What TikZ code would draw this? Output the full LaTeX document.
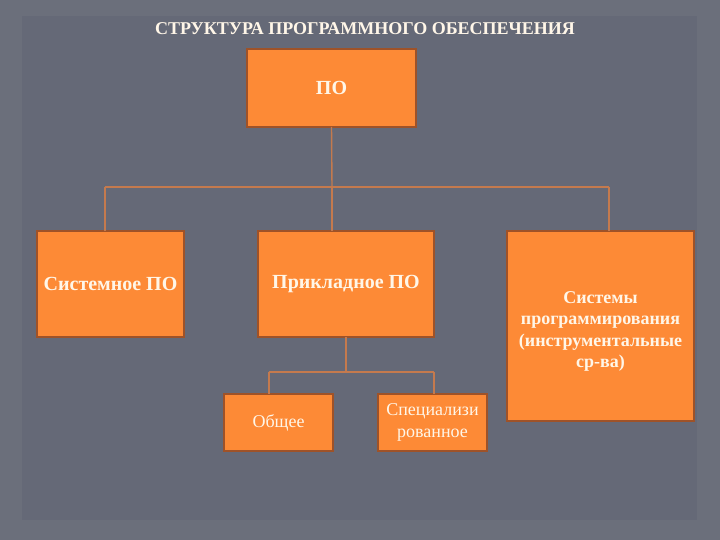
\documentclass[tikz,border=0pt]{standalone}
\usepackage{fontspec}
\setmainfont{Liberation Serif}
\definecolor{bgout}{HTML}{6B6F7B}
\definecolor{bgin}{HTML}{656977}
\definecolor{boxfill}{HTML}{FD8A36}
\definecolor{boxline}{HTML}{9E5228}
\definecolor{conn}{HTML}{C47A4E}
\definecolor{txt}{HTML}{FFF6E8}
\begin{document}
\begin{tikzpicture}[x=1pt,y=-1pt,
  box/.style={draw=boxline,line width=2pt,fill=boxfill,inner sep=0pt,outer sep=0pt,text=txt,align=center},
  link/.style={draw=conn,line width=1.4pt}]
\fill[bgout] (0,0) rectangle (720,540);
\useasboundingbox (0,0) rectangle (720,540);
\fill[bgin] (22,16) rectangle (697,520);
\node[text=txt,font=\bfseries\fontsize{18}{20}\selectfont] (title) at (365,29) {СТРУКТУРА ПРОГРАММНОГО ОБЕСПЕЧЕНИЯ};
\node[box,minimum width=169,minimum height=78,font=\bfseries\fontsize{20}{22}\selectfont] (po) at (331.5,88) {ПО};
\node[box,minimum width=147,minimum height=106,font=\bfseries\fontsize{20}{22}\selectfont] (sys) at (110.5,284) {Системное ПО};
\node[box,minimum width=176,minimum height=106,font=\bfseries\fontsize{20}{22}\selectfont] (app) at (346,284) {Прикладное ПО};
\node[box,minimum width=187,minimum height=190] (prog) at (600.5,326) {};
\node[text=txt,align=center,font=\bfseries\fontsize{18}{21.5}\selectfont] (progt) at (600.5,331.5) {Системы\\программирования\\(инструментальные\\ср-ва)};
\node[box,minimum width=109,minimum height=57,font=\fontsize{18}{22}\selectfont] (gen) at (278.5,422.5) {Общее};
\node[box,minimum width=109,minimum height=57,font=\fontsize{18}{22}\selectfont] (spec) at (432.5,422.5) {Специализи\\рованное};
\coordinate (h1) at (332,187);
\coordinate (hl) at (105,187);
\coordinate (hr) at (609,187);
\coordinate (h2) at (346,372);
\coordinate (gl) at (269,372);
\coordinate (gr) at (434,372);
\draw[link] (po.south) -- (h1);
\draw[link] (hl) -- (hr);
\draw[link] (hl) -- (hl |- sys.north);
\draw[link] (h1) -- (h1 |- app.north);
\draw[link] (hr) -- (hr |- prog.north);
\draw[link] (app.south) -- (h2);
\draw[link] (gl) -- (gr);
\draw[link] (gl) -- (gl |- gen.north);
\draw[link] (gr) -- (gr |- spec.north);
\end{tikzpicture}
\end{document}
